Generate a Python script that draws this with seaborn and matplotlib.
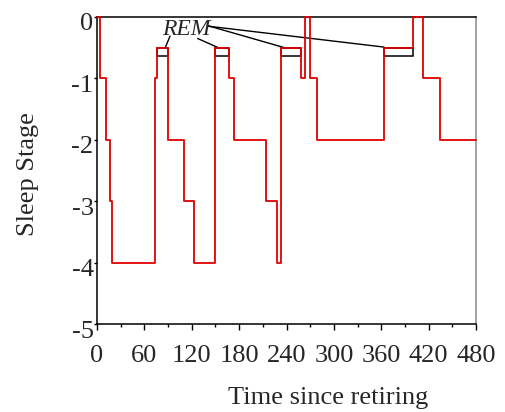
import numpy as np
import pandas as pd
import matplotlib
matplotlib.use("Agg")
import matplotlib.pyplot as plt
import matplotlib.transforms as mtransforms
from matplotlib.patches import Rectangle
import seaborn as sns

# ---- data ----
step_times = [0, 4, 11.5, 16.5, 19.5, 73.5, 75.5, 90.2, 110, 122.7, 149.4,
              167.5, 173.5, 213.6, 228.4, 232.5, 258, 263.4, 270, 279,
              363.5, 400.5, 413, 434.4, 480]
step_stage = [0, -1, -2, -3, -4, -1, -0.5, -2, -3, -4, -0.5,
              -1, -2, -3, -4, -0.5, -1, 0, -1, -2,
              -0.5, 0, -1, -2, -2]
rem_start = [75.5, 149.4, 232.5, 363.5]
rem_end = [90.2, 167.5, 258, 400.5]
rem_top = -0.5
rem_bottom = -0.63
x_ticks = [0, 60, 120, 180, 240, 300, 360, 420, 480]
y_ticks = [0, -1, -2, -3, -4, -5]
# annotation pointer segments (start -> end), data coords
ann_text_pos = (113.6, -0.2)
ann_from = [(92.5, -0.31), (127.5, -0.35), (140.0, -0.14), (141.0, -0.15)]
ann_to = [(86.1, -0.51), (154.5, -0.505), (240.3, -0.51), (363.5, -0.49)]

df = pd.DataFrame({"time": step_times, "stage": step_stage})

sns.set_theme(style="white")
plt.rcParams["font.family"] = ["Liberation Serif", "DejaVu Serif"]

fig = plt.figure(figsize=(5.05, 4.12), dpi=100)
ax = fig.add_axes([97 / 505, 1 - 324 / 412, 379 / 505, 307 / 412])

# REM boxes
for s, e in zip(rem_start, rem_end):
    ax.add_patch(Rectangle((s, rem_bottom), e - s, rem_top - rem_bottom,
                           fill=False, edgecolor="black", linewidth=1.1, zorder=3))

sns.lineplot(data=df, x="time", y="stage", ax=ax, drawstyle="steps-post",
             color="#e00000", linewidth=1.3, estimator=None, sort=False,
             zorder=5, clip_on=False)

ax.text(ann_text_pos[0], ann_text_pos[1], "REM", fontstyle="italic",
        fontsize=17, ha="center", va="center", zorder=6)
for (x0, y0), (x1, y1) in zip(ann_from, ann_to):
    ax.plot([x0, x1], [y0, y1], color="black", linewidth=1.0, zorder=4)

ax.set_xlim(0, 480)
ax.set_ylim(-5, 0)
ax.set_xticks(x_ticks)
ax.set_xticklabels([str(v) for v in x_ticks])
ax.set_xticks([v + 30 for v in x_ticks[:-1]], minor=True)
ax.set_yticks(y_ticks)
ax.set_yticklabels([str(v) for v in y_ticks])

ax.tick_params(axis="x", which="major", direction="out", length=4, width=1,
               color="black", labelsize=19, pad=11, bottom=True)
ax.tick_params(axis="x", which="minor", direction="out", length=2.5, width=1,
               color="black", bottom=True)
ax.tick_params(axis="y", which="major", direction="out", length=2.5, width=1,
               color="black", labelsize=19, pad=0, left=True)

offset = mtransforms.ScaledTranslation(0, -5 / 100, fig.dpi_scale_trans)
for lab in ax.get_yticklabels():
    lab.set_transform(lab.get_transform() + offset)

for side in ["left", "bottom", "top"]:
    ax.spines[side].set_color("black")
    ax.spines[side].set_linewidth(1.1)
ax.spines["right"].set_color("#888888")
ax.spines["right"].set_linewidth(1.1)

ax.set_xlabel("Time since retiring", fontsize=19)
ax.set_ylabel("Sleep Stage", fontsize=19)
ax.xaxis.set_label_coords(0.611, -0.205)
ax.yaxis.set_label_coords(-0.152, 0.487)
ax.grid(False)

fig.savefig("out.png", dpi=100)
